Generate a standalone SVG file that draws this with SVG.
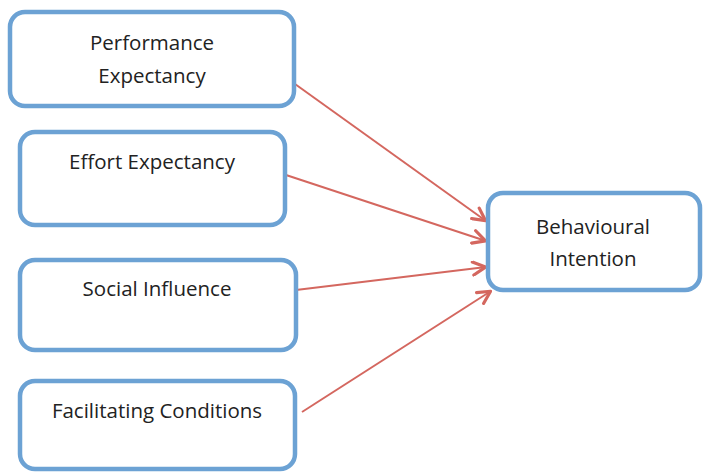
<svg xmlns="http://www.w3.org/2000/svg" width="704" height="472" viewBox="0 0 704 472">
<style>
.box{fill:#fff;stroke:#6ca2d4;stroke-width:4.5}
.t{font-family:"Open Sans","Liberation Sans",sans-serif;font-size:20.5px;fill:#222;text-anchor:middle}
.c{stroke:#d4675f;stroke-width:2;fill:none}
</style>
<defs>
<marker id="ah" viewBox="0 0 16 16" refX="15" refY="8" markerWidth="16" markerHeight="16" markerUnits="userSpaceOnUse" orient="auto">
<path d="M2,1.5 L14.5,8 L2,14.5" fill="none" stroke="#d4675f" stroke-width="3.2" stroke-linecap="round" stroke-linejoin="round"/>
</marker>
</defs>
<rect width="704" height="472" fill="#fff"/>
<g id="connectors">
<line class="c" x1="295" y1="84" x2="486" y2="221" marker-end="url(#ah)"/>
<line class="c" x1="286" y1="175" x2="486" y2="241" marker-end="url(#ah)"/>
<line class="c" x1="296" y1="290" x2="486" y2="267" marker-end="url(#ah)"/>
<line class="c" x1="302" y1="412" x2="491" y2="291" marker-end="url(#ah)"/>
</g>
<g id="performance">
<rect class="box" x="10" y="12" width="284" height="94" rx="15"/>
<text class="t" x="152" y="50">Performance</text>
<text class="t" x="152" y="83">Expectancy</text>
</g>
<g id="effort">
<rect class="box" x="20" y="132" width="265" height="93" rx="15"/>
<text class="t" x="152" y="169">Effort Expectancy</text>
</g>
<g id="social">
<rect class="box" x="20" y="260" width="276" height="90" rx="15"/>
<text class="t" x="157" y="296">Social Influence</text>
</g>
<g id="facilitating">
<rect class="box" x="20" y="381" width="275" height="88" rx="15"/>
<text class="t" x="157" y="418">Facilitating Conditions</text>
</g>
<g id="behavioural">
<rect class="box" x="488" y="193" width="212" height="97" rx="15"/>
<text class="t" x="593" y="234">Behavioural</text>
<text class="t" x="593" y="266">Intention</text>
</g>
</svg>
